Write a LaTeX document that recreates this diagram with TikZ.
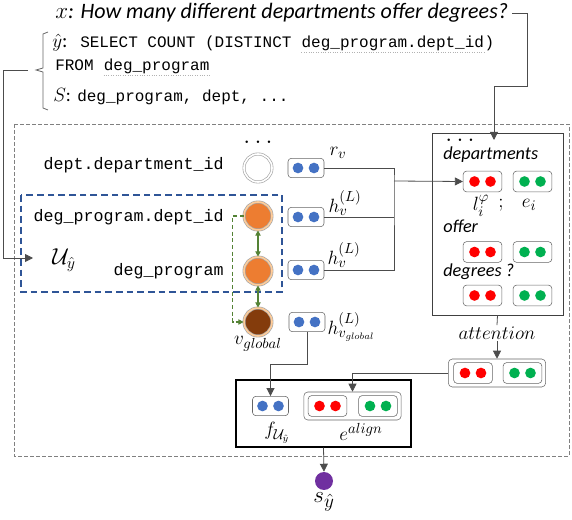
\documentclass[tikz,border=0pt]{standalone}
\usepackage{amsmath,amssymb}
\usepackage{fontspec}
\setmonofont{Liberation Mono}
\newfontfamily\calib{Carlito}
\usetikzlibrary{arrows.meta, positioning}
\definecolor{VecBlue}{RGB}{68,114,196}
\definecolor{VecRed}{RGB}{255,0,0}
\definecolor{VecGreen}{RGB}{0,176,80}
\definecolor{NodeOrange}{RGB}{237,125,49}
\definecolor{NodeBrown}{RGB}{132,60,12}
\definecolor{BoxBlue}{RGB}{47,85,151}
\definecolor{LinkGreen}{RGB}{84,130,53}
\definecolor{ScorePurple}{RGB}{112,48,160}

\begin{document}
\begin{tikzpicture}[
		x=0.75pt, y=-0.75pt,
		% lines and arrows
		conn/.style={draw=black!70, line width=0.6pt},
		arr/.style={-{Triangle[length=6pt,width=6pt]}},
		glink/.style={draw=LinkGreen, line width=0.8pt},
		ul/.style={draw=gray!60, line width=0.8pt, densely dotted},
		% texts
		sqltext/.style={font=\ttfamily\fontsize{12}{14}\selectfont, anchor=base west, inner sep=0pt},
		colname/.style={font=\ttfamily\fontsize{12.5}{14}\selectfont, anchor=mid east, inner sep=0pt},
		wordlabel/.style={font=\calib\itshape\fontsize{13.7}{16}\selectfont, anchor=base west, inner sep=0pt},
		mathlabel/.style={font=\fontsize{15}{17}\selectfont, inner sep=1pt},
		% schema nodes
		colnode/.style={circle, minimum size=21pt, inner sep=0pt, draw=gray!70, line width=0.5pt, double distance=1.2pt},
		% vector frames
		vecframe/.style={draw=black!60, rounded corners=2.5pt, minimum width=27pt, minimum height=14.5pt, inner sep=0pt, fill=white},
		pairframe/.style={draw=black!60, rounded corners=2.5pt, minimum width=29pt, minimum height=15.5pt, inner sep=0pt, fill=white},
		outerframe/.style={draw=black!60, rounded corners=3pt, minimum width=73pt, minimum height=21pt, inner sep=0pt},
		pics/vec/.style 2 args={code={
				\node[#2] (-f) {};
				\fill[#1] (-6pt,0pt) circle (4pt);
				\fill[#1] (6pt,0pt) circle (4pt);
		}}
		]
		\useasboundingbox (0,0) rectangle (572,520);
		
		% question and query
		\node[anchor=west, inner sep=3pt] (title) at (51,13) {\calib\itshape\fontsize{16.5}{19}\selectfont $x$: How many different departments offer degrees?};
		\node[anchor=base west, inner sep=0pt, font=\fontsize{15}{16}\selectfont] (yhat) at (52,48) {$\hat{y}$\calib:};
		\node[sqltext] (sqlsel) at (80,48) {SELECT COUNT (DISTINCT\hphantom{x}};
		\node[sqltext] (sqlcol) at (sqlsel.base east) {deg\_program.dept\_id};
		\node[sqltext] (sqlend) at (sqlcol.base east) {)};
		\node[sqltext] (sqlfrom) at (55,71) {FROM\hphantom{x}};
		\node[sqltext] (sqltab) at (sqlfrom.base east) {deg\_program};
		\draw[ul] ([yshift=-3.5pt]sqlcol.base west) -- ([yshift=-3.5pt]sqlcol.base east);
		\draw[ul] ([yshift=-3.5pt]sqltab.base west) -- ([yshift=-3.5pt]sqltab.base east);
		\node[anchor=base west, inner sep=0pt, font=\fontsize{14}{15}\selectfont] (slabel) at (53,102) {$S$\calib:};
		\node[sqltext] (stabs) at (77,102) {deg\_program, dept, ...};
		
		% brace round the query
		\coordinate (bracetip) at (36,70);
		\draw[draw=black!60, line width=0.6pt] (48,32) -- (43,34) -- (43,68) -- (bracetip) -- (43,72) -- (43,108) -- (48,110);
		
		% outer frames
		\draw[draw=gray, line width=0.6pt, dash pattern=on 3pt off 1.5pt] (14,124) rectangle (569,456);
		\draw[draw=BoxBlue, line width=1.3pt, dash pattern=on 5pt off 3pt] (21,195) rectangle (282,292);
		
		% schema items
		\node[font=\bfseries\fontsize{13}{16}\selectfont, inner sep=0pt] (coldots) at (258,142) {.\,\,.\,\,.};
		\node[colnode, fill=white, double=white] (dept) at (258,168) {};
		\node[colnode, fill=NodeOrange, double=orange!40] (dpid) at (258,216) {};
		\node[colnode, fill=NodeOrange, double=orange!40] (dprog) at (258,271) {};
		\node[colnode, fill=NodeBrown, double=orange!40] (glob) at (258,322) {};
		\node[colname] (deptname) at (224,167) {dept.department\_id};
		\node[colname] (dpidname) at (224,219) {deg\_program.dept\_id};
		\node[colname] (dprogname) at (224,273) {deg\_program};
		\node[mathlabel] (globname) at (258,344) {$v_{global}$};
		\node[font=\fontsize{18}{20}\selectfont, inner sep=0pt] (uy) at (64,260) {$\mathcal{U}_{\hat{y}}$};
		\coordinate (uin) at (33,258);
		
		% links between schema items
		\draw[glink, dash pattern=on 3pt off 2pt, -{Triangle[length=4pt,width=4pt]}] (dpid.west) -- ++(-11,0) |- (glob.west);
		\draw[glink, {Triangle[length=4pt,width=4pt]}-{Triangle[length=4pt,width=4pt]}] (dpid.south) -- (dprog.north);
		\draw[glink, {Triangle[length=4pt,width=4pt]}-{Triangle[length=4pt,width=4pt]}] (dprog.south) -- (glob.north);
		
		% node vectors
		\pic (hr) at (306,168) {vec={VecBlue}{vecframe}};
		\pic (ha) at (306,217) {vec={VecBlue}{vecframe}};
		\pic (hb) at (306,270) {vec={VecBlue}{vecframe}};
		\pic (hg) at (307,322) {vec={VecBlue}{vecframe}};
		\node[mathlabel] (rlab) at (338,153) {$r_v$};
		\node[mathlabel] (halab) at (345,203) {$h_v^{(L)}$};
		\node[mathlabel] (hblab) at (344,255) {$h_v^{(L)}$};
		\node[mathlabel, anchor=west] (hglab) at (326,327) {$h_{v_{global}}^{(L)}$};
		
		% question words
		\node[draw=black!75, line width=0.7pt, minimum width=98.25pt, minimum height=136.5pt, inner sep=0pt] (wordbox) at (497.5,224) {};
		\node[font=\bfseries\fontsize{13}{16}\selectfont, inner sep=0pt] (worddots) at (460,140) {.\,\,.\,\,.};
		\node[wordlabel] (wdept) at (443,160) {departments};
		\pic (d1) at (482.5,181.5) {vec={VecRed}{pairframe}};
		\pic (d2) at (532.5,181.5) {vec={VecGreen}{pairframe}};
		\node[mathlabel] (llab) at (481,206) {$l_i^{\varphi}$};
		\node[mathlabel] (semi) at (501,205) {$;$};
		\node[mathlabel] (elab) at (529,205) {$e_i$};
		\node[wordlabel] (woffer) at (443,233) {offer};
		\pic (o1) at (482.5,252) {vec={VecRed}{pairframe}};
		\pic (o2) at (532.5,252) {vec={VecGreen}{pairframe}};
		\node[wordlabel] (wdeg) at (443,277) {degrees ?};
		\pic (g1) at (482.5,295.5) {vec={VecRed}{pairframe}};
		\pic (g2) at (532.5,295.5) {vec={VecGreen}{pairframe}};
		\coordinate (xin) at (494,140);
		
		% attention result
		\node[mathlabel] (attn) at (497,333) {$attention$};
		\node[outerframe] (attbox) at (497,373) {};
		\pic (a1) at (473,373) {vec={VecRed}{pairframe}};
		\pic (a2) at (522.5,373) {vec={VecGreen}{pairframe}};
		
		% fusion and score
		\node[draw=black, line width=0.9pt, minimum width=131.25pt, minimum height=50.25pt, inner sep=0pt] (fusion) at (323.5,413.5) {};
		\pic (fu) at (270.5,406) {vec={VecBlue}{vecframe}};
		\node[outerframe] (ealign) at (352.5,406) {};
		\pic (e1) at (327.5,406) {vec={VecRed}{pairframe}};
		\pic (e2) at (378,406) {vec={VecGreen}{pairframe}};
		\node[mathlabel] (fulab) at (277,433) {$f_{\mathcal{U}_{\hat{y}}}$};
		\node[mathlabel] (ealab) at (361,432) {$e^{align}$};
		\node[circle, fill=ScorePurple, minimum size=13.5pt, inner sep=0pt] (score) at (324,481) {};
		\node[font=\fontsize{19}{21}\selectfont, inner sep=0pt] (slab) at (324,502) {$s_{\hat{y}}$};
		
		% connectors
		\draw[conn, arr] (title.east) -| (527,86) -| (xin);
		\draw[conn, arr] ([xshift=-6pt]bracetip) -| (3,258) -- (uin);
		\coordinate (bus) at (394,181);
		\draw[conn] (hr-f.east) -| (bus) |- (hb-f.east);
		\draw[conn] (ha-f.east) -- (ha-f.east -| bus);
		\draw[conn, arr] (bus) -- (d1-f.west);
		\draw[conn] (wordbox.south) -- (attn.north);
		\draw[conn, arr] (attn.south) -- (attbox.north);
		\draw[conn, arr] (attbox.west) -| (ealign.north);
		\draw[conn, arr] (hg-f.south) -- ++(0,32) -| (fu-f.north);
		\draw[conn, arr] (fusion.south) -- (score.north);
		
	\end{tikzpicture}
\end{document}
